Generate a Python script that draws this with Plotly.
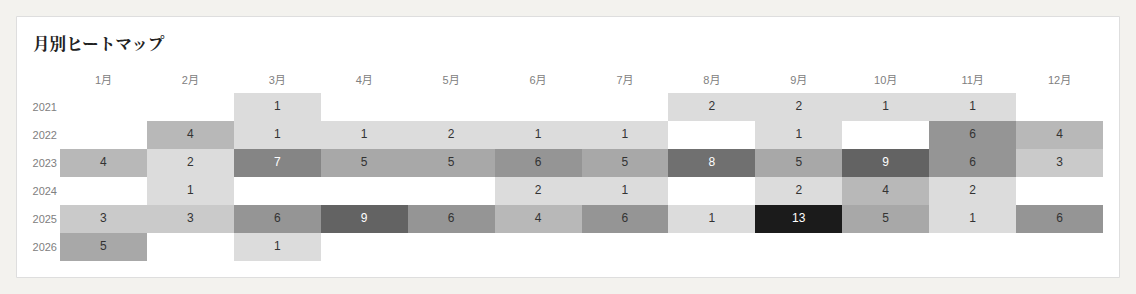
import plotly.graph_objects as go
import math

months = ["1月", "2月", "3月", "4月", "5月", "6月", "7月", "8月", "9月", "10月", "11月", "12月"]
years = ["2021", "2022", "2023", "2024", "2025", "2026"]
N = None
v2021 = [N, N, 1, N, N, N, N, 2, 2, 1, 1, N]
v2022 = [N, 4, 1, 1, 2, 1, 1, N, 1, N, 6, 4]
v2023 = [4, 2, 7, 5, 5, 6, 5, 8, 5, 9, 6, 3]
v2024 = [N, 1, N, N, N, 2, 1, N, 2, 4, 2, N]
v2025 = [3, 3, 6, 9, 6, 4, 6, 1, 13, 5, 1, 6]
v2026 = [5, N, 1, N, N, N, N, N, N, N, N, N]
z = [v2021, v2022, v2023, v2024, v2025, v2026]

# grey level for each count value (1..13)
level_colors = {1: "#dcdcdc", 2: "#dcdcdc", 3: "#cacaca", 4: "#b8b8b8", 5: "#a8a8a8",
                6: "#959595", 7: "#858585", 8: "#707070", 9: "#636363", 10: "#515151",
                11: "#3f3f3f", 12: "#2d2d2d", 13: "#1b1b1b"}
zmin, zmax = 1, 13
colorscale = [[(k - zmin) / (zmax - zmin), c] for k, c in sorted(level_colors.items())]

W, H = 1136, 294
L, R, T, B = 60, 33, 93, 33

fig = go.Figure()
fig.add_trace(go.Heatmap(
    z=[[(math.nan if v is None else v) for v in row] for row in z],
    x=months, y=years, colorscale=colorscale, zmin=zmin, zmax=zmax,
    showscale=False, hoverongaps=False, xgap=0, ygap=0,
))

tx, ty, tt, tc = [], [], [], []
for yi, row in enumerate(z):
    for xi, v in enumerate(row):
        if v is None:
            continue
        tx.append(months[xi]); ty.append(years[yi]); tt.append(str(v))
        tc.append("#ffffff" if v >= 7 else "#333333")
fig.add_trace(go.Scatter(
    x=tx, y=ty, text=tt, mode="text",
    textfont=dict(color=tc, size=12, family="Liberation Sans, Arial, sans-serif"),
    hoverinfo="skip", showlegend=False,
))

pw, ph = W - L - R, H - T - B
fig.add_shape(type="rect", xref="paper", yref="paper", layer="below",
              x0=(16.5 - L) / pw, x1=(1119.5 - L) / pw,
              y0=(H - B - 277.5) / ph, y1=(H - B - 16.5) / ph,
              fillcolor="#ffffff", line=dict(color="#dedede", width=1))

fig.update_layout(
    width=W, height=H,
    margin=dict(l=L, r=R, t=T, b=B),
    paper_bgcolor="#f3f2ee", plot_bgcolor="#ffffff",
    font=dict(family="Liberation Sans, Noto Sans CJK JP, sans-serif", color="#777777", size=11),
    title=dict(text="<b>月別ヒートマップ</b>", x=33 / W, xanchor="left", xref="container",
               y=1 - 44 / H, yanchor="middle", yref="container",
               font=dict(family="Noto Serif CJK JP, Noto Sans CJK JP, serif", size=16.6, color="#222222")),
    xaxis=dict(side="top", showgrid=False, zeroline=False, ticks="", showline=False,
               range=[-0.5, len(months) - 0.5], fixedrange=True,
               tickfont=dict(color="#808080", size=11), ticklabelstandoff=6),
    yaxis=dict(range=[len(years) - 0.5, -0.5], showgrid=False, zeroline=False, ticks="", showline=False,
               tickfont=dict(color="#808080", size=11), ticklabelstandoff=2),
)

fig.write_html("out.html")
